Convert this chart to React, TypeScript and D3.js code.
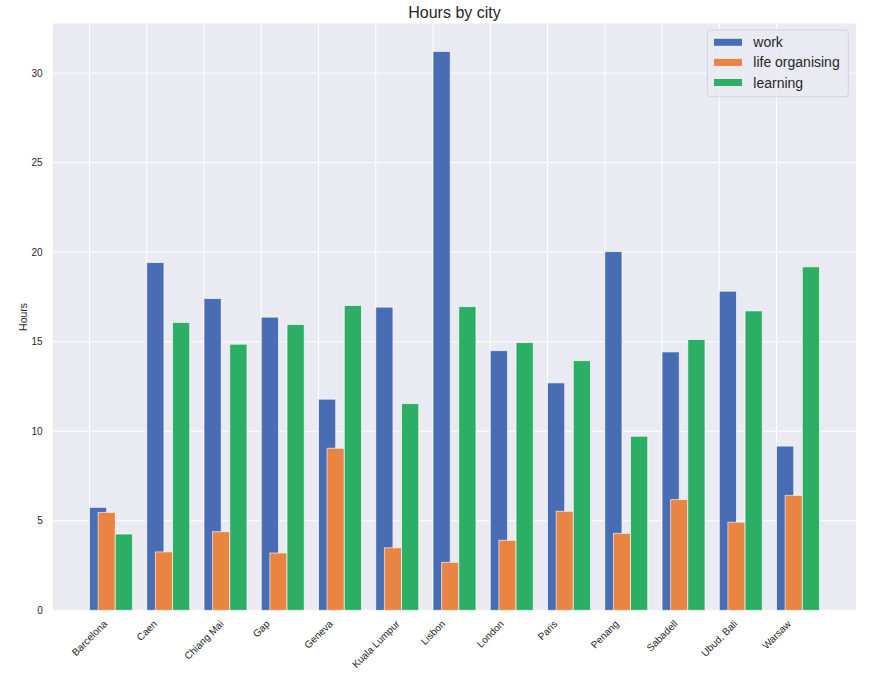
import React, { useMemo } from "react";
import * as d3 from "d3";

const cities = ["Barcelona", "Caen", "Chiang Mai", "Gap", "Geneva", "Kuala Lumpur", "Lisbon", "London", "Paris", "Penang", "Sabadell", "Ubud, Bali", "Warsaw"];
const work = [5.75, 19.42, 17.41, 16.37, 11.79, 16.93, 31.21, 14.5, 12.7, 20.03, 14.43, 17.82, 9.17];
const lifeOrganising = [5.47, 3.26, 4.39, 3.2, 9.05, 3.49, 2.68, 3.91, 5.53, 4.3, 6.18, 4.92, 6.42];
const learning = [4.26, 16.07, 14.86, 15.96, 17.02, 11.54, 16.96, 14.95, 13.94, 9.72, 15.12, 16.72, 19.18];
const yTicks = [0, 5, 10, 15, 20, 25, 30];
const seriesNames = ["work", "life organising", "learning"];
const seriesColors = ["#486db5", "#ea8442", "#2caf64"];

const W = 875;
const H = 678;
const M = { left: 53, right: 856, top: 23.5, bottom: 610.3 };
const FONT = "'Liberation Sans', Arial, Helvetica, sans-serif";
const TXT = "#262626";

function measure(text: string, size: number): number {
  if (typeof document === "undefined") return text.length * size * 0.5;
  const c = document.createElement("canvas");
  const ctx = c.getContext("2d");
  if (!ctx) return text.length * size * 0.5;
  ctx.font = `${size}px ${FONT}`;
  return ctx.measureText(text).width;
}

export default function App() {
  const barW = 0.3;
  const series = [work, lifeOrganising, learning];
  const offsets = [0, barW / 2, barW * 1.5];
  const n = cities.length;
  const xMin = 0;
  const xMax = n - 1 + offsets[2] + barW;
  const pad = (xMax - xMin) * 0.05;
  const x = d3.scaleLinear().domain([xMin - pad, xMax + pad]).range([M.left, M.right]);
  const yMaxData = d3.max(series.flat()) as number;
  const y = d3.scaleLinear().domain([0, yMaxData * 1.05]).range([M.bottom, M.top]);

  const labelGeo = useMemo(
    () =>
      cities.map((c) => {
        const L = measure(c, 10);
        const h = 11.5;
        const bh = (L + h) * Math.SQRT1_2;
        return { cy: 618 + bh / 2 };
      }),
    []
  );

  return (
    <svg width={W} height={H} style={{ position: "absolute", left: 0, top: 0, background: "#fff" }} fontFamily={FONT}>
      <rect x={M.left} y={M.top} width={M.right - M.left} height={M.bottom - M.top} fill="#eaeaf2" />
      {yTicks.map((t) => (
        <line key={"gy" + t} x1={M.left} x2={M.right} y1={y(t)} y2={y(t)} stroke="#fff" strokeWidth={1} />
      ))}
      {cities.map((c, i) => (
        <line key={"gx" + c} x1={x(i)} x2={x(i)} y1={M.top} y2={M.bottom} stroke="#fff" strokeWidth={1} />
      ))}
      {series.map((vals, s) =>
        vals.map((v, i) => {
          const x0 = x(i + offsets[s]);
          const x1 = x(i + offsets[s] + barW);
          return (
            <rect
              key={`b${s}-${i}`}
              x={x0}
              y={y(v)}
              width={x1 - x0}
              height={y(0) - y(v)}
              fill={seriesColors[s]}
              stroke="#ffffff"
              strokeOpacity={0.7}
              strokeWidth={0.9}
            />
          );
        })
      )}
      {yTicks.map((t) => (
        <text key={"ty" + t} x={42.7} y={y(t)} textAnchor="end" dominantBaseline="central" fontSize={10} fill={TXT}>
          {t}
        </text>
      ))}
      {cities.map((c, i) => {
        const cx = x(i);
        const cy = labelGeo[i].cy;
        return (
          <text
            key={"tx" + c}
            x={cx}
            y={cy}
            textAnchor="middle"
            dominantBaseline="central"
            fontSize={10}
            fill={TXT}
            transform={`rotate(-45, ${cx}, ${cy})`}
          >
            {c}
          </text>
        );
      })}
      <text x={23} y={(M.top + M.bottom) / 2} textAnchor="middle" dominantBaseline="central" fontSize={10.5} fill={TXT} transform={`rotate(-90, 23, ${(M.top + M.bottom) / 2})`}>
        Hours
      </text>
      <text x={(M.left + M.right) / 2} y={18} textAnchor="middle" fontSize={16} fill={TXT}>
        Hours by city
      </text>
      <g>
        <rect x={707.3} y={30} width={141} height={66.7} rx={3} fill="#eaeaf2" fillOpacity={0.9} stroke="#d2d2d8" strokeWidth={1} />
        {seriesNames.map((name, k) => {
          const cy = 42.3 + k * 20.1;
          return (
            <g key={name}>
              <rect x={714} y={cy - 3.5} width={28} height={7} fill={seriesColors[k]} />
              <text x={753.3} y={cy} dominantBaseline="central" fontSize={14} fill={TXT}>
                {name}
              </text>
            </g>
          );
        })}
      </g>
    </svg>
  );
}
